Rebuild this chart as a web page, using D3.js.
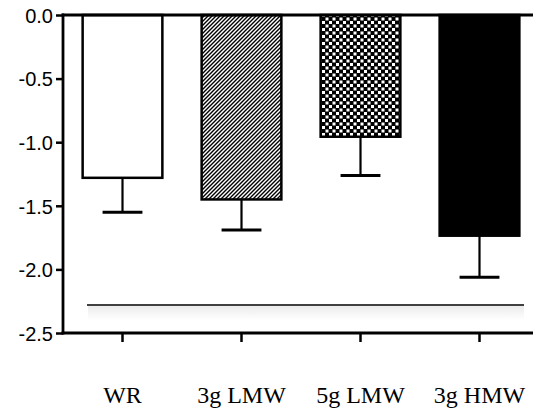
<!DOCTYPE html>
<html>
<head>
<meta charset="utf-8">
<script src="https://cdn.jsdelivr.net/npm/d3@7"></script>
<style>
  body { margin: 0; background: #fff; }
  svg { display: block; }
  .ytick text { font-family: "Liberation Sans", Arial, sans-serif; font-size: 20px; fill: #000; }
  .cat-lab { font-family: "Liberation Serif", "Times New Roman", serif; font-size: 24px; fill: #000; }
</style>
</head>
<body>
<svg width="533" height="414"></svg>
<script>
const categories = ["WR", "3g LMW", "5g LMW", "3g HMW"];
const means = [-1.28, -1.45, -0.957, -1.735];
const errors = [0.27, 0.24, 0.305, 0.327];
const fills = ["white", "url(#hatch)", "url(#checker)", "black"];
const yTicks = [0, -0.5, -1.0, -1.5, -2.0, -2.5];
const refLine = -2.28;

const svgArea = d3.select("svg");
const width = +svgArea.attr("width");

const margin = {top: 15, left: 63, bottom: 333};

const xScale = d3.scaleBand()
  .domain(categories)
  .range([margin.left, margin.left + 476])
  .paddingInner(0.33)
  .paddingOuter(0.165);

const yScale = d3.scaleLinear()
  .domain([-2.5, 0])
  .range([margin.bottom, margin.top]);

// patterns for the bar fills
const defs = svgArea.append("defs");

const hatch = defs.append("pattern")
  .attr("id", "hatch")
  .attr("patternUnits", "userSpaceOnUse")
  .attr("width", 4).attr("height", 4);
hatch.append("rect").attr("width", 4).attr("height", 4).attr("fill", "white");
hatch.append("path")
  .attr("d", "M-1,1 l2,-2 M0,4 l4,-4 M3,5 l2,-2")
  .attr("stroke", "black")
  .attr("stroke-width", 1.4);

const checker = defs.append("pattern")
  .attr("id", "checker")
  .attr("patternUnits", "userSpaceOnUse")
  .attr("width", 7).attr("height", 7);
checker.append("rect").attr("width", 7).attr("height", 7).attr("fill", "black");
checker.append("rect").attr("x", 0).attr("y", 0).attr("width", 3).attr("height", 3).attr("fill", "white");
checker.append("rect").attr("x", 3.5).attr("y", 3.5).attr("width", 3).attr("height", 3).attr("fill", "white");

const shadow = defs.append("linearGradient")
  .attr("id", "shadow")
  .attr("x1", 0).attr("y1", 0).attr("x2", 0).attr("y2", 1);
shadow.append("stop").attr("offset", "0%").attr("stop-color", "#ebebeb");
shadow.append("stop").attr("offset", "100%").attr("stop-color", "#ffffff");

// reference line with its soft shadow
const refY = yScale(refLine);
svgArea.append("rect")
  .attr("x", 88).attr("y", refY + 1)
  .attr("width", 436).attr("height", 14)
  .attr("fill", "url(#shadow)");
svgArea.append("line")
  .attr("x1", 87).attr("x2", 524)
  .attr("y1", refY).attr("y2", refY)
  .attr("stroke", "black")
  .attr("stroke-width", 1.5);

// error bars
const err = svgArea.append("g").selectAll("g")
  .data(categories)
  .enter().append("g");

err.append("line")
  .attr("x1", (d) => xScale(d) + xScale.bandwidth() / 2)
  .attr("x2", (d) => xScale(d) + xScale.bandwidth() / 2)
  .attr("y1", (d, i) => yScale(means[i]))
  .attr("y2", (d, i) => yScale(means[i] - errors[i]))
  .attr("stroke", "black")
  .attr("stroke-width", 2.2);

err.append("line")
  .attr("x1", (d) => xScale(d) + xScale.bandwidth() / 4)
  .attr("x2", (d) => xScale(d) + xScale.bandwidth() * 3 / 4)
  .attr("y1", (d, i) => yScale(means[i] - errors[i]))
  .attr("y2", (d, i) => yScale(means[i] - errors[i]))
  .attr("stroke", "black")
  .attr("stroke-width", 3);

// bars
svgArea.append("g").selectAll("rect")
  .data(categories)
  .enter().append("rect")
    .attr("x", (d) => xScale(d))
    .attr("y", yScale(0))
    .attr("width", xScale.bandwidth())
    .attr("height", (d, i) => yScale(means[i]) - yScale(0))
    .attr("fill", (d, i) => fills[i])
    .attr("stroke", "black")
    .attr("stroke-width", 2.5);

// y axis, plain hyphen for the minus sign like the original
const yAxis = d3.axisLeft(yScale)
  .tickValues(yTicks)
  .tickFormat((d) => d.toFixed(1))
  .tickSize(7)
  .tickPadding(3);

const yAxisG = svgArea.append("g")
  .attr("class", "ytick")
  .attr("transform", "translate(" + margin.left + ",0)")
  .call(yAxis);
yAxisG.select(".domain").remove();
yAxisG.selectAll(".tick line").attr("stroke-width", 2.5);
yAxisG.selectAll(".tick text").attr("dy", "0.36em");

svgArea.append("line")
  .attr("x1", margin.left).attr("x2", margin.left)
  .attr("y1", margin.top - 1.5).attr("y2", margin.bottom + 1.5)
  .attr("stroke", "black").attr("stroke-width", 2.8);

// zero line and bottom axis
svgArea.append("line")
  .attr("x1", margin.left - 1.4).attr("x2", width)
  .attr("y1", yScale(0)).attr("y2", yScale(0))
  .attr("stroke", "black").attr("stroke-width", 3);

const xAxis = d3.axisBottom(xScale)
  .tickSize(9)
  .tickFormat("");

const xAxisG = svgArea.append("g")
  .attr("transform", "translate(0," + margin.bottom + ")")
  .call(xAxis);
xAxisG.select(".domain").remove();
xAxisG.selectAll(".tick line").attr("stroke-width", 2.5);

svgArea.append("line")
  .attr("x1", margin.left - 1.4).attr("x2", width)
  .attr("y1", margin.bottom).attr("y2", margin.bottom)
  .attr("stroke", "black").attr("stroke-width", 2.8);

svgArea.append("g").selectAll("text")
  .data(categories)
  .enter().append("text")
    .attr("class", "cat-lab")
    .attr("x", (d) => xScale(d) + xScale.bandwidth() / 2)
    .attr("y", 403)
    .attr("text-anchor", "middle")
    .text((d) => d);
</script>
</body>
</html>
